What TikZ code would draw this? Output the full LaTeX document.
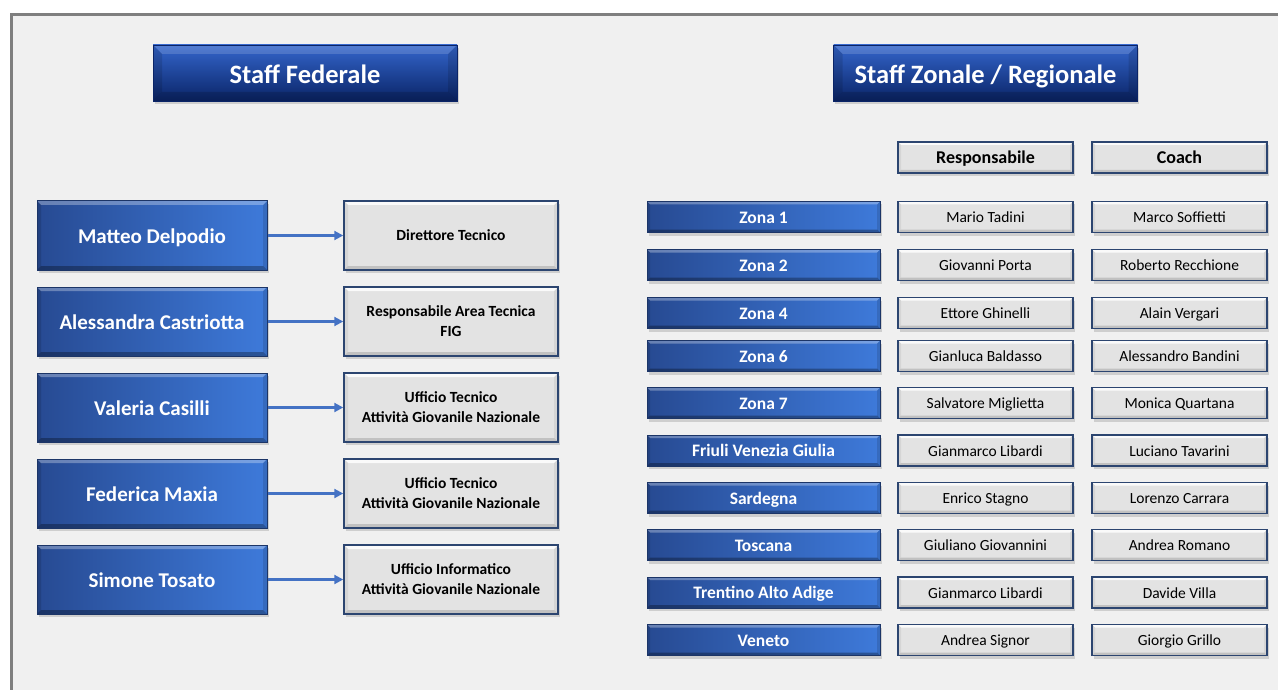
\documentclass[tikz,border=0pt]{standalone}
\usepackage{fontspec}
\setmainfont{Carlito}
\usetikzlibrary{shadows,arrows.meta}
\definecolor{framegray}{HTML}{7F7F7F}
\definecolor{bgfill}{HTML}{F0F0F0}
\definecolor{bdark}{HTML}{274A92}
\definecolor{blight}{HTML}{3E7ADA}
\definecolor{bborder}{HTML}{1C3567}
\definecolor{ttop}{HTML}{3466CC}
\definecolor{tbot}{HTML}{0A2467}
\definecolor{gfill}{HTML}{E3E3E3}
\definecolor{gborder}{HTML}{2C4570}
\definecolor{arrowblue}{HTML}{4472C4}
\newcommand\bevelpic[5]{%
  \path (path picture bounding box.north west) coordinate (bvNW)
        (path picture bounding box.south east) coordinate (bvSE)
        (path picture bounding box.north east) coordinate (bvNE)
        (path picture bounding box.south west) coordinate (bvSW);
  \fill[#2,opacity=#3] (bvNW) -- (bvNE) -- ([xshift=-#1,yshift=-#1]bvNE) -- ([xshift=#1,yshift=-#1]bvNW) -- cycle;
  \fill[black,opacity=#4] (bvSW) -- (bvSE) -- ([xshift=-#1,yshift=#1]bvSE) -- ([xshift=#1,yshift=#1]bvSW) -- cycle;
  \fill[black,opacity=#5] (bvNW) -- ([xshift=#1,yshift=-#1]bvNW) -- ([xshift=#1,yshift=#1]bvSW) -- (bvSW) -- cycle;
  \fill[black,opacity=#5] (bvNE) -- ([xshift=-#1,yshift=-#1]bvNE) -- ([xshift=-#1,yshift=#1]bvSE) -- (bvSE) -- cycle;
}
\tikzset{
  shadowed/.style={drop shadow={shadow xshift=1.5pt,shadow yshift=-3pt,opacity=.3}},
  titlebox/.style={shadowed, draw=tbot, line width=.8pt, top color=ttop, bottom color=tbot,
    text=white, font=\bfseries\fontsize{26.5}{30}\selectfont, inner sep=0pt,
    text height=23pt, text depth=2pt,
    minimum width=304, minimum height=56,
    path picture={\bevelpic{9pt}{white}{.15}{.15}{.12}}},
  personbox/.style={shadowed, draw=bborder, line width=1pt, left color=bdark, right color=blight,
    text=white, font=\bfseries\fontsize{21}{25}\selectfont, inner sep=0pt,
    text height=18pt, text depth=2pt,
    minimum width=230, minimum height=69,
    path picture={\bevelpic{4pt}{white}{.3}{.3}{.12}}},
  rolebox/.style={shadowed, draw=gborder, line width=1.5pt, fill=gfill, text=black,
    font=\bfseries\fontsize{15.5}{20}\selectfont, align=center, inner sep=0pt,
    minimum width=214, minimum height=69,
    path picture={\bevelpic{4pt}{white}{.85}{.15}{.06}}},
  zonebox/.style={shadowed, draw=bborder, line width=1pt, left color=bdark, right color=blight,
    text=white, font=\bfseries\fontsize{17.5}{20}\selectfont, inner sep=0pt,
    text height=14.5pt, text depth=2pt,
    minimum width=233, minimum height=31,
    path picture={\bevelpic{3pt}{white}{.3}{.3}{.12}}},
  namebox/.style={shadowed, draw=gborder, line width=1.5pt, fill=gfill, text=black,
    font=\fontsize{15.5}{18}\selectfont, inner sep=0pt,
    text height=13pt, text depth=2pt,
    minimum width=175, minimum height=31,
    path picture={\bevelpic{3pt}{white}{.85}{.15}{.06}}},
  headbox/.style={namebox, font=\bfseries\fontsize{18}{20}\selectfont,
    text height=15pt, text depth=2pt},
  link/.style={draw=arrowblue, line width=2.2pt, -{Triangle[length=9pt,width=9pt]}},
}
\begin{document}
\begin{tikzpicture}[x=1pt,y=-1pt]
\useasboundingbox (0,0) rectangle (1278,690);
\fill[white] (0,0) rectangle (1278,690);
\draw[framegray, line width=3pt, fill=bgfill] (11.5,14.5) rectangle (1300,720);

% titles
\node[titlebox] (tfed) at (305,73) {Staff Federale};
\node[titlebox] (tzon) at (985.5,73) {Staff Zonale / Regionale};

% left side
\node[personbox] (p1) at (152,235.5) {Matteo Delpodio};
\node[personbox] (p2) at (152,321.5) {Alessandra Castriotta};
\node[personbox] (p3) at (152,407.5) {Valeria Casilli};
\node[personbox] (p4) at (152,493.5) {Federica Maxia};
\node[personbox] (p5) at (152,579.5) {Simone Tosato};

\node[rolebox] (r1) at (451,235.5) {Direttore Tecnico};
\node[rolebox] (r2) at (451,321.5) {Responsabile Area Tecnica\\FIG};
\node[rolebox] (r3) at (451,407.5) {Ufficio Tecnico\\Attività Giovanile Nazionale};
\node[rolebox] (r4) at (451,493.5) {Ufficio Tecnico\\Attività Giovanile Nazionale};
\node[rolebox] (r5) at (451,579.5) {Ufficio Informatico\\Attività Giovanile Nazionale};

\foreach \i in {1,...,5} \draw[link] (p\i.east) -- (r\i.west);

% right side
\node[headbox] (hresp) at (985.5,157.5) {Responsabile};
\node[headbox] (hcoach) at (1179.5,157.5) {Coach};

\foreach \y/\z/\r/\c [count=\k] in {
  217/Zona 1/Mario Tadini/Marco Soffietti,
  265/Zona 2/Giovanni Porta/Roberto Recchione,
  313/Zona 4/Ettore Ghinelli/Alain Vergari,
  356/Zona 6/Gianluca Baldasso/Alessandro Bandini,
  403/Zona 7/Salvatore Miglietta/Monica Quartana,
  450.5/Friuli Venezia Giulia/Gianmarco Libardi/Luciano Tavarini,
  498/Sardegna/Enrico Stagno/Lorenzo Carrara,
  545/Toscana/Giuliano Giovannini/Andrea Romano,
  592.5/Trentino Alto Adige/Gianmarco Libardi/Davide Villa,
  640/Veneto/Andrea Signor/Giorgio Grillo}{
  \node[zonebox] (z\k) at (763.5,\y) {\z};
  \node[namebox] (zr\k) at (985.5,\y) {\r};
  \node[namebox] (zc\k) at (1179.5,\y) {\c};
}
\end{tikzpicture}
\end{document}
